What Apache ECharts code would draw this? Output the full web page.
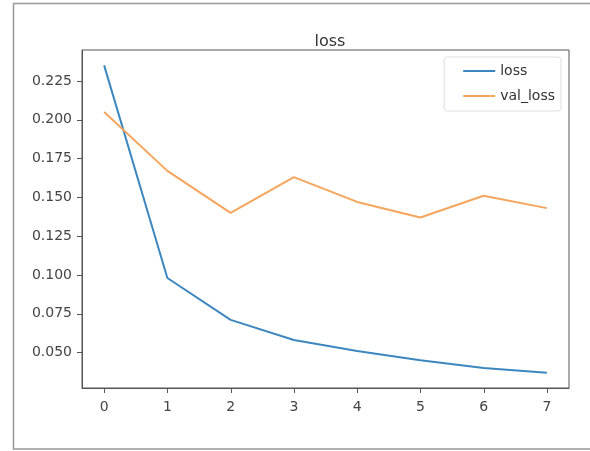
<!DOCTYPE html>
<html>
<head>
<meta charset="utf-8">
<script src="https://cdn.jsdelivr.net/npm/echarts@6/dist/echarts.min.js"></script>
<style>html,body{margin:0;padding:0;background:#fff;}#c{width:590px;height:451px;}</style>
</head>
<body>
<div id="c"></div>
<script>
const epochs = [0, 1, 2, 3, 4, 5, 6, 7];
const lossValues = [0.235, 0.098, 0.071, 0.058, 0.051, 0.045, 0.040, 0.037];
const valLossValues = [0.205, 0.167, 0.140, 0.163, 0.147, 0.137, 0.151, 0.143];
const yTicks = [0.050, 0.075, 0.100, 0.125, 0.150, 0.175, 0.200, 0.225];
const xTicks = [0, 1, 2, 3, 4, 5, 6, 7];
const xMin = -0.35, xMax = 7.35, yMin = 0.0271, yMax = 0.2449;

const chart = echarts.init(document.getElementById('c'), null, {renderer: 'canvas'});
const font = 'DejaVu Sans';
const pair = (vals) => epochs.map((e, i) => [e, vals[i]]);
const tickStyle = {stroke: '#555', lineWidth: 1};
chart.setOption({
  backgroundColor: '#fff',
  animation: false,
  title: {
    text: 'loss', left: 325, top: 29, textAlign: 'center',
    textStyle: {fontFamily: font, fontSize: 16, fontWeight: 'normal', color: '#333'}
  },
  grid: {left: 82, right: 21, top: 50, bottom: 63, show: true, borderColor: '#555', borderWidth: 1, backgroundColor: 'transparent'},
  legend: {
    orient: 'vertical', right: 29, top: 57,
    data: ['loss', 'val_loss'],
    icon: 'rect', itemWidth: 32, itemHeight: 2, itemGap: 11,
    padding: [7, 6, 8, 19],
    borderColor: '#ddd', borderWidth: 1, borderRadius: 3, backgroundColor: '#fff',
    textStyle: {fontFamily: font, fontSize: 14, color: '#333'}
  },
  xAxis: {
    type: 'value', min: xMin, max: xMax,
    axisLine: {show: true, onZero: false, lineStyle: {color: '#555', width: 1}},
    splitLine: {show: false},
    axisTick: {show: false},
    axisLabel: {customValues: xTicks, margin: 12, fontFamily: font, fontSize: 14, color: '#444'}
  },
  yAxis: {
    type: 'value', min: yMin, max: yMax,
    axisLine: {show: true, onZero: false, lineStyle: {color: '#555', width: 1}},
    splitLine: {show: false},
    axisTick: {show: false},
    axisLabel: {customValues: yTicks, margin: 10, fontFamily: font, fontSize: 14, color: '#444',
      formatter: (v) => v.toFixed(3)}
  },
  series: [
    {name: 'loss', type: 'line', data: pair(lossValues), showSymbol: false, symbol: 'none',
      lineStyle: {width: 2, color: '#3d87c0'}, itemStyle: {color: '#3d87c0'}},
    {name: 'val_loss', type: 'line', data: pair(valLossValues), showSymbol: false, symbol: 'none',
      lineStyle: {width: 2, color: '#f5a55c'}, itemStyle: {color: '#f5a55c'}},
    {name: 'yticks', type: 'custom', silent: true, clip: false, z: 5,
      data: yTicks.map(v => [xMin, v]),
      renderItem: (params, api) => {
        const p = api.coord([api.value(0), api.value(1)]);
        const y = Math.round(p[1]) + 0.5;
        return {type: 'line', shape: {x1: p[0] - 5, y1: y, x2: p[0], y2: y}, style: tickStyle};
      }},
    {name: 'xticks', type: 'custom', silent: true, clip: false, z: 5,
      data: xTicks.map(v => [v, yMin]),
      renderItem: (params, api) => {
        const p = api.coord([api.value(0), api.value(1)]);
        const x = Math.round(p[0]) + 0.5;
        return {type: 'line', shape: {x1: x, y1: p[1], x2: x, y2: p[1] + 5}, style: tickStyle};
      }}
  ],
  graphic: [
    {type: 'rect', shape: {x: 13.5, y: 3.5, width: 600, height: 445.5}, silent: true, z: -10,
      style: {fill: 'none', stroke: '#999', lineWidth: 1.5}}
  ]
});
</script>
</body>
</html>
